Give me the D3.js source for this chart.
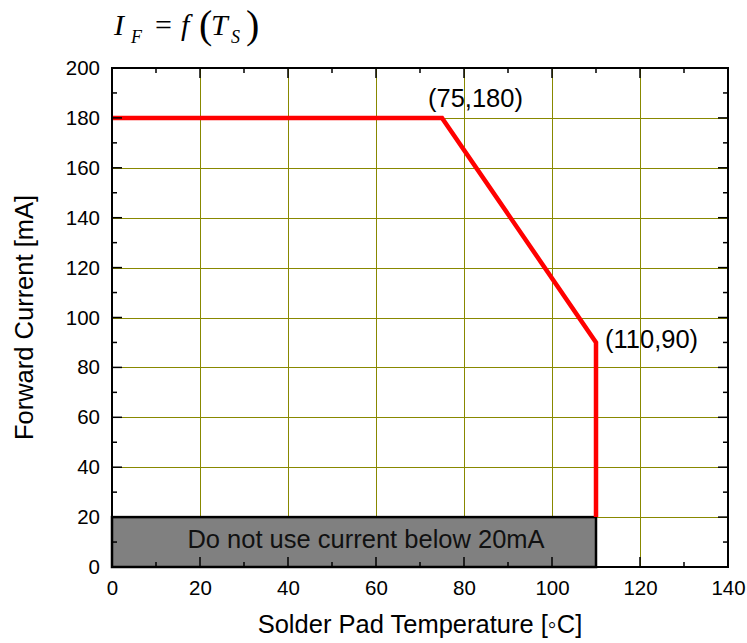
<!DOCTYPE html>
<html><head><meta charset="utf-8">
<script src="https://cdn.jsdelivr.net/npm/d3@7"></script>
<style>body{margin:0;background:#fff}svg{display:block}</style>
</head><body>
<script>
const curveX = [0, 75, 110, 110];
const curveY = [180, 180, 90, 20];
const xTicks = [0, 20, 40, 60, 80, 100, 120, 140];
const yTicks = [0, 20, 40, 60, 80, 100, 120, 140, 160, 180, 200];
const boxX = [0, 110];
const boxY = [0, 20];
const boxText = "Do not use current below 20mA";
const annotations = [{x: 75, y: 180, t: "(75,180)"}, {x: 110, y: 90, t: "(110,90)"}];

const W = 747, H = 643;
const svg = d3.select("body").append("svg").attr("width", W).attr("height", H);
const x = d3.scaleLinear().domain([0, 140]).range([112, 728]);
const y = d3.scaleLinear().domain([0, 200]).range([567, 68]);
const font = "Arial, 'Liberation Sans', sans-serif";

// grid
const grid = svg.append("g").attr("stroke", "#888800").attr("stroke-width", 1);
xTicks.filter(v => v > 0 && v < 140).forEach(v => grid.append("line")
  .attr("x1", Math.round(x(v)) + 0.5).attr("x2", Math.round(x(v)) + 0.5).attr("y1", y(0)).attr("y2", y(200)));
yTicks.filter(v => v > 0 && v < 200).forEach(v => grid.append("line")
  .attr("y1", Math.round(y(v)) + 0.5).attr("y2", Math.round(y(v)) + 0.5).attr("x1", x(0)).attr("x2", x(140)));

// box
svg.append("rect").attr("x", x(boxX[0])).attr("y", y(boxY[1]))
  .attr("width", x(boxX[1]) - x(boxX[0])).attr("height", y(boxY[0]) - y(boxY[1]))
  .attr("fill", "#808080").attr("stroke", "#000").attr("stroke-width", 2.5);
svg.append("text").attr("x", (x(boxX[0]) + x(boxX[1])) / 2 + 12).attr("y", (y(boxY[0]) + y(boxY[1])) / 2 + 6)
  .attr("text-anchor", "middle").attr("font-family", font).attr("font-size", 25.5).attr("fill", "#111").text(boxText);

// curve
const line = d3.line().x(d => x(d[0])).y(d => y(d[1]));
svg.append("path").datum(d3.zip(curveX, curveY)).attr("d", line)
  .attr("fill", "none").attr("stroke", "#ff0000").attr("stroke-width", 4.5);

// inner ticks (major + minor) on all sides
const minorX = d3.range(0, 141, 10), minorY = d3.range(0, 201, 10);
const tk = svg.append("g").attr("stroke", "#000").attr("stroke-width", 1.5);
minorX.forEach(v => {
  const len = v % 20 === 0 ? 10 : 5;
  tk.append("line").attr("x1", x(v)).attr("x2", x(v)).attr("y1", y(0)).attr("y2", y(0) - len);
  tk.append("line").attr("x1", x(v)).attr("x2", x(v)).attr("y1", y(200)).attr("y2", y(200) + len);
});
minorY.forEach(v => {
  const len = v % 20 === 0 ? 10 : 5;
  tk.append("line").attr("y1", y(v)).attr("y2", y(v)).attr("x1", x(0)).attr("x2", x(0) + len);
  tk.append("line").attr("y1", y(v)).attr("y2", y(v)).attr("x1", x(140)).attr("x2", x(140) - len);
});
svg.append("rect").attr("x", x(0)).attr("y", y(200)).attr("width", x(140) - x(0)).attr("height", y(0) - y(200))
  .attr("fill", "none").attr("stroke", "#000").attr("stroke-width", 2);

// tick labels
const xAxis = d3.axisBottom(x).tickValues(xTicks).tickSize(0).tickPadding(13);
const gx = svg.append("g").attr("transform", `translate(0,${y(0)})`).call(xAxis);
const yAxis = d3.axisLeft(y).tickValues(yTicks).tickSize(0).tickPadding(12);
const gy = svg.append("g").attr("transform", `translate(${x(0)},0)`).call(yAxis);
[gx, gy].forEach(g => { g.select(".domain").remove(); g.selectAll("text").attr("font-family", font).attr("font-size", 20.5).attr("fill", "#000"); });

// annotations
svg.append("text").attr("x", x(annotations[0].x) - 14).attr("y", y(annotations[0].y) - 11)
  .attr("font-family", font).attr("font-size", 25.5).text(annotations[0].t);
svg.append("text").attr("x", x(annotations[1].x) + 9).attr("y", y(annotations[1].y) + 6)
  .attr("font-family", font).attr("font-size", 25.5).text(annotations[1].t);

// axis titles
svg.append("text").attr("x", 420).attr("y", 633).attr("text-anchor", "middle")
  .attr("font-family", font).attr("font-size", 25.5).text("Solder Pad Temperature [\u25E6C]");
svg.append("text").attr("transform", `translate(33,${(y(0) + y(200)) / 2}) rotate(-90)`).attr("text-anchor", "middle")
  .attr("font-family", font).attr("font-size", 25.5).text("Forward Current [mA]");

// formula title
const serif = "'Liberation Serif', 'Times New Roman', serif";
const tg = svg.append("g").attr("font-family", serif).attr("fill", "#000");
tg.append("text").attr("x", 114).attr("y", 35).attr("font-size", 30).attr("font-style", "italic").text("I");
tg.append("text").attr("x", 131).attr("y", 43).attr("font-size", 18).attr("font-style", "italic").text("F");
tg.append("text").attr("x", 155).attr("y", 35).attr("font-size", 30).text("=");
tg.append("text").attr("x", 181).attr("y", 35).attr("font-size", 30).attr("font-style", "italic").text("f");
tg.append("text").attr("x", 199).attr("y", 38).attr("font-size", 40).text("(");
tg.append("text").attr("x", 211).attr("y", 35).attr("font-size", 30).attr("font-style", "italic").text("T");
tg.append("text").attr("x", 231).attr("y", 43).attr("font-size", 18).attr("font-style", "italic").text("S");
tg.append("text").attr("x", 246).attr("y", 38).attr("font-size", 40).text(")");
</script>
</body></html>
